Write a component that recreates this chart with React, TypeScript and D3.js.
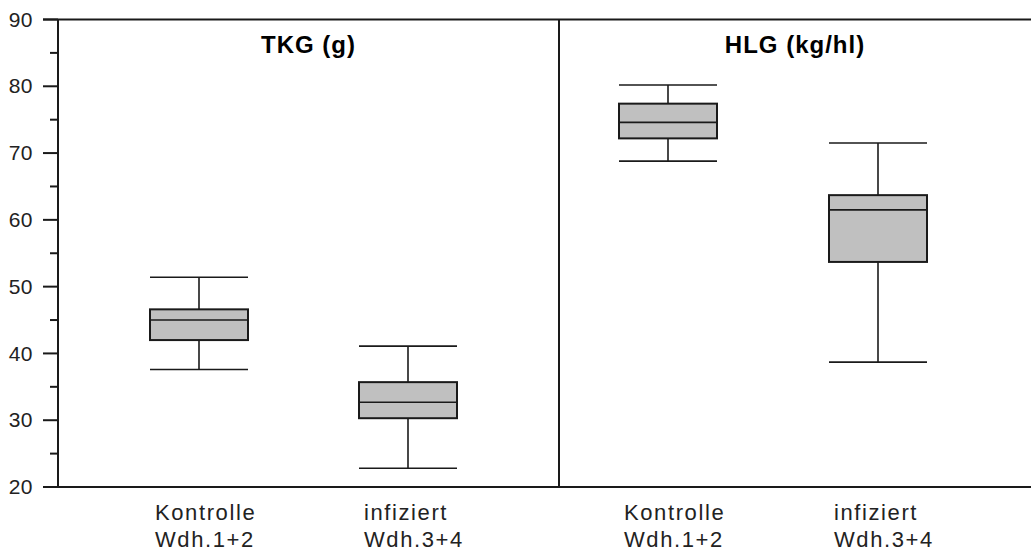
import React from "react";
import * as d3 from "d3";

const categories = ["Kontrolle|Wdh.1+2", "infiziert|Wdh.3+4"];
const panels = ["TKG (g)", "HLG (kg/hl)"];
// [low whisker, q1, median, q3, high whisker] per panel, per category
const tkgStats = [
  [37.6, 42.0, 45.0, 46.6, 51.4],
  [22.8, 30.3, 32.7, 35.7, 41.1],
];
const hlgStats = [
  [68.8, 72.2, 74.6, 77.4, 80.2],
  [38.7, 53.7, 61.5, 63.7, 71.5],
];
const yTicks = [20, 30, 40, 50, 60, 70, 80, 90];
const yMinorTicks = [25, 35, 45, 55, 65, 75, 85];

const W = 1031;
const H = 558;
const FONT = "'Liberation Sans', Arial, sans-serif";

export default function App() {
  const y = d3.scaleLinear().domain([20, 90]).range([487, 19.5]);
  const axisX = 58;
  const divX = 559;
  const rightX = W;
  const panelRanges: [number, number][] = [
    [axisX, divX],
    [divX, rightX],
  ];
  const xScales = [
    d3.scalePoint<string>().domain(categories).range([199, 408]),
    d3.scalePoint<string>().domain(categories).range([668, 878]),
  ];
  const allStats = [tkgStats, hlgStats];
  const boxW = 98;
  const lineColor = "#1a1a1a";

  return (
    <svg
      width={W}
      height={H}
      style={{ position: "absolute", left: 0, top: 0, background: "#fff" }}
      fontFamily={FONT}
    >
      {/* frame lines */}
      <line x1={43} x2={rightX} y1={y(90)} y2={y(90)} stroke={lineColor} strokeWidth={2} />
      <line x1={43} x2={rightX} y1={y(20)} y2={y(20)} stroke={lineColor} strokeWidth={2} />
      <line x1={axisX} x2={axisX} y1={y(90)} y2={y(20)} stroke={lineColor} strokeWidth={2} />
      <line x1={divX} x2={divX} y1={y(90)} y2={y(20)} stroke={lineColor} strokeWidth={2} />

      {/* y ticks */}
      {yTicks.map((t) => (
        <g key={t}>
          <line x1={43} x2={axisX} y1={y(t)} y2={y(t)} stroke={lineColor} strokeWidth={2} />
          <text
            x={33}
            y={y(t)}
            dy="0.34em"
            textAnchor="end"
            fontSize={21}
            letterSpacing={0.5}
            fill="#222"
          >
            {t}
          </text>
        </g>
      ))}
      {yMinorTicks.map((t) => (
        <line key={t} x1={50} x2={axisX} y1={y(t)} y2={y(t)} stroke={lineColor} strokeWidth={2} />
      ))}

      {/* panel titles */}
      {panels.map((p, i) => (
        <text
          key={p}
          x={(panelRanges[i][0] + panelRanges[i][1]) / 2}
          y={52.5}
          textAnchor="middle"
          fontSize={24}
          fontWeight="bold"
          letterSpacing={1}
          fill="#000"
        >
          {p}
        </text>
      ))}

      {/* boxes */}
      {allStats.map((stats, pi) =>
        stats.map((s, ci) => {
          const cx = xScales[pi](categories[ci]) as number;
          const [lo, q1, med, q3, hi] = s;
          return (
            <g key={`${pi}-${ci}`}>
              <line x1={cx} x2={cx} y1={y(hi)} y2={y(q3)} stroke={lineColor} strokeWidth={1.6} />
              <line x1={cx} x2={cx} y1={y(q1)} y2={y(lo)} stroke={lineColor} strokeWidth={1.6} />
              <line x1={cx - boxW / 2} x2={cx + boxW / 2} y1={y(hi)} y2={y(hi)} stroke={lineColor} strokeWidth={1.6} />
              <line x1={cx - boxW / 2} x2={cx + boxW / 2} y1={y(lo)} y2={y(lo)} stroke={lineColor} strokeWidth={1.6} />
              <rect
                x={cx - boxW / 2}
                y={y(q3)}
                width={boxW}
                height={y(q1) - y(q3)}
                fill="#c0c0c0"
                stroke={lineColor}
                strokeWidth={2}
              />
              <line x1={cx - boxW / 2} x2={cx + boxW / 2} y1={y(med)} y2={y(med)} stroke={lineColor} strokeWidth={1.6} />
            </g>
          );
        })
      )}

      {/* category labels */}
      {xScales.map((xs, pi) =>
        categories.map((c) => {
          const cx = xs(c) as number;
          const [l1, l2] = c.split("|");
          return (
            <g key={`${pi}-${c}`}>
              <text x={cx - 44} y={520} fontSize={22} letterSpacing={1.6} fill="#222">
                {l1}
              </text>
              <text x={cx - 44} y={547} fontSize={22} letterSpacing={1.6} fill="#222">
                {l2}
              </text>
            </g>
          );
        })
      )}
    </svg>
  );
}
